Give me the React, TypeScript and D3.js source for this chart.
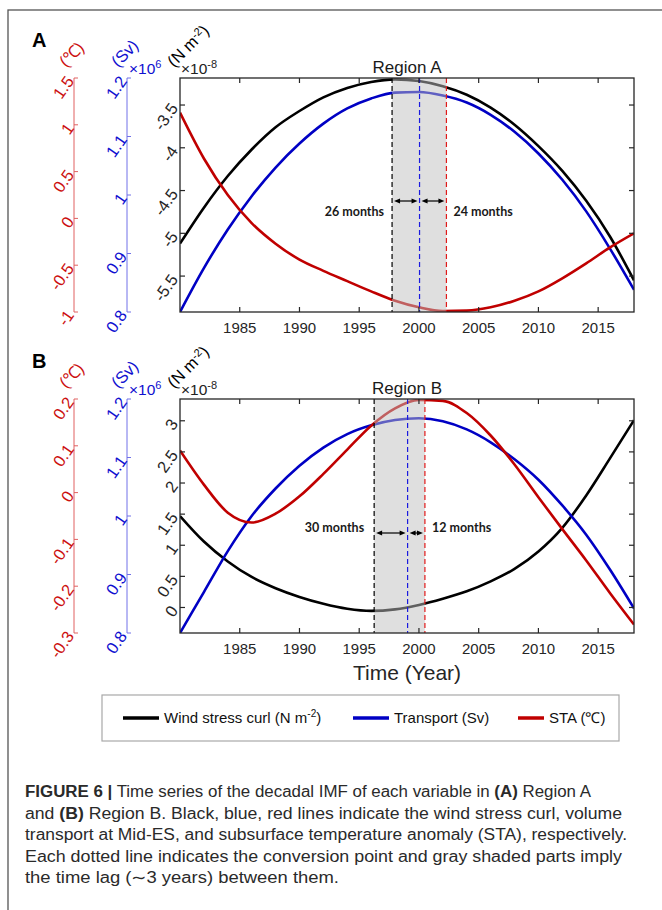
import * as d3 from "d3";

// decadal IMF (every 2 years)
const years = [1980, 1982, 1984, 1986, 1988, 1990, 1992, 1994, 1996, 1998, 2000, 2002, 2004, 2006, 2008, 2010, 2012, 2014, 2016, 2018];

// Region A
const windA = [-5.12, -4.7, -4.33, -4.02, -3.76, -3.57, -3.41, -3.3, -3.23, -3.2, -3.22, -3.28, -3.38, -3.53, -3.73, -3.98, -4.27, -4.62, -5.04, -5.55];
const transportA = [0.8, 0.875, 0.941, 0.998, 1.047, 1.088, 1.122, 1.148, 1.165, 1.175, 1.176, 1.17, 1.158, 1.137, 1.108, 1.071, 1.026, 0.972, 0.908, 0.838];
const staA = [1.13, 0.64, 0.25, -0.05, -0.27, -0.44, -0.56, -0.67, -0.78, -0.88, -0.95, -0.99, -0.985, -0.95, -0.88, -0.78, -0.64, -0.48, -0.31, -0.16];

// Region B
const windB = [1.47, 1.06, 0.74, 0.49, 0.31, 0.17, 0.06, -0.02, -0.055, -0.03, 0.04, 0.14, 0.26, 0.42, 0.62, 0.9, 1.28, 1.8, 2.4, 3.01];
const transportB = [0.8, 0.87, 0.94, 1.0, 1.047, 1.086, 1.117, 1.14, 1.155, 1.164, 1.167, 1.162, 1.148, 1.126, 1.097, 1.062, 1.018, 0.968, 0.908, 0.842];
const staB = [0.09, 0.017, -0.043, -0.064, -0.045, -0.008, 0.04, 0.092, 0.143, 0.18, 0.198, 0.196, 0.17, 0.122, 0.06, -0.01, -0.078, -0.145, -0.215, -0.282];

// conversion points (black, blue, red dashed lines) and lags
const convA = [1997.75, 2000.05, 2002.3];
const convB = [1996.25, 1999.05, 2000.5];
const monthsA = ["26 months", "24 months"];
const monthsB = ["30 months", "12 months"];

// ticks
const xTicks = [1985, 1990, 1995, 2000, 2005, 2010, 2015];
const windTicksA = [-5.5, -5, -4.5, -4, -3.5];
const windTicksB = [0, 0.5, 1, 1.5, 2, 2.5, 3];
const transportTicks = [0.8, 0.9, 1, 1.1, 1.2];
const staTicksA = [-1, -0.5, 0, 0.5, 1, 1.5];
const staTicksB = [-0.3, -0.2, -0.1, 0, 0.1, 0.2];

const legendLabels = ["Wind stress curl (N m", "Transport (Sv)", "STA (\u2103)"];

const captionLines = [
  [["FIGURE 6 |", true], [" Time series of the decadal IMF of each variable in ", false], ["(A)", true], [" Region A", false]],
  [["and ", false], ["(B)", true], [" Region B. Black, blue, red lines indicate the wind stress curl, volume", false]],
  [["transport at Mid-ES, and subsurface temperature anomaly (STA), respectively.", false]],
  [["Each dotted line indicates the conversion point and gray shaded parts imply", false]],
  [["the time lag (\u223C3 years) between them.", false]],
];
const captionWidths = [566, 597, 602, 597, 314];

const BLACK = "#000000";
const BLUE = "#0000c4";
const RED = "#c00000";
const FONT = "'Liberation Sans', Arial, sans-serif";

const X0 = 180;
const X1 = 634;
const PH = 234;
const RED_AX = 74;
const BLUE_AX = 127;
const TICK_FS = 16.5;
const ROT = -55;

const x = d3.scaleLinear().domain([1980, 2018]).range([X0, X1]);

function Arrow({ x1, x2, y }) {
  const h = 5;
  return (
    <g fill={BLACK} stroke={BLACK}>
      <line x1={x1 + h} x2={x2 - h} y1={y} y2={y} strokeWidth={1.2} />
      <path d={`M${x1},${y}L${x1 + h + 1},${y - 2.6}L${x1 + h + 1},${y + 2.6}Z`} stroke="none" />
      <path d={`M${x2},${y}L${x2 - h - 1},${y - 2.6}L${x2 - h - 1},${y + 2.6}Z`} stroke="none" />
    </g>
  );
}

function Panel({ top, letter, title, wind, transport, sta, windDomain, windTicks, staDomain, staTicks, conv, months, arrowDy, textDy, textGapL, showXLabel }) {
  const bottom = top + PH;
  const yW = d3.scaleLinear().domain(windDomain).range([bottom, top]);
  const yT = d3.scaleLinear().domain([0.8, 1.2]).range([bottom, top]);
  const yS = d3.scaleLinear().domain(staDomain).range([bottom, top]);
  const mk = (vals: number[], y: d3.ScaleLinear<number, number>) =>
    d3.line<number>().x((_, i) => x(years[i])).y((v) => y(v)).curve(d3.curveMonotoneX)(vals) || "";
  const clipId = `clip-${letter}`;
  const [cb, cu, cr] = conv.map((c) => x(c));
  const ay = top + arrowDy;

  return (
    <g fontFamily={FONT}>
      <text x={32} y={top - 31} fontSize={20} fontWeight="bold" fill="#000">{letter}</text>

      {/* STA axis */}
      <line x1={RED_AX} x2={RED_AX} y1={yS(staDomain[0])} y2={yS(staDomain[1])} stroke="#e06060" strokeWidth={1} />
      {staTicks.map((t) => (
        <g key={t}>
          <line x1={RED_AX} x2={RED_AX + 4} y1={yS(t)} y2={yS(t)} stroke="#e06060" />
          <text transform={`translate(${RED_AX - 4},${yS(t)}) rotate(${ROT})`} dy="0.35em" textAnchor="end" fontSize={TICK_FS} fill="#cc1010">{String(t)}</text>
        </g>
      ))}
      <text transform={`translate(${RED_AX - 8},${top - 10}) rotate(-45)`} fontSize={TICK_FS} fill="#cc1010">{"(\u2103)"}</text>

      {/* Transport axis */}
      <line x1={BLUE_AX} x2={BLUE_AX} y1={bottom} y2={top} stroke="#7070e8" strokeWidth={1} />
      {transportTicks.map((t) => (
        <g key={t}>
          <line x1={BLUE_AX} x2={BLUE_AX + 4} y1={yT(t)} y2={yT(t)} stroke="#7070e8" />
          <text transform={`translate(${BLUE_AX - 4},${yT(t)}) rotate(${ROT})`} dy="0.35em" textAnchor="end" fontSize={TICK_FS} fill="#1010d0">{String(t)}</text>
        </g>
      ))}
      <text transform={`translate(${BLUE_AX - 9},${top - 10}) rotate(-45)`} fontSize={TICK_FS} fill="#1010d0">(Sv)</text>
      <text x={BLUE_AX + 2} y={top - 4} fontSize={15.5} fill="#1010d0">
        {"\u00D710"}<tspan dy={-6} fontSize={11}>6</tspan>
      </text>

      {/* wind stress axis labels */}
      <text transform={`translate(${X0 - 6},${top - 10}) rotate(-45)`} fontSize={TICK_FS} fill="#000">
        (N m<tspan dy={-5} fontSize={11}>-2</tspan><tspan dy={5}>)</tspan>
      </text>
      <text x={X0 + 1} y={top - 4} fontSize={15.5} fill="#222">
        {"\u00D710"}<tspan dy={-6} fontSize={11}>-8</tspan>
      </text>

      <text x={(X0 + X1) / 2} y={top - 5} textAnchor="middle" fontSize={17} fill="#1a1a1a">{title}</text>

      {/* curves */}
      <defs>
        <clipPath id={clipId}>
          <rect x={X0} y={top} width={X1 - X0} height={PH} />
        </clipPath>
      </defs>
      <g clipPath={`url(#${clipId})`} fill="none" strokeWidth={2.6} strokeLinejoin="round">
        <path d={mk(wind, yW)} stroke={BLACK} />
        <path d={mk(transport, yT)} stroke={BLUE} />
        <path d={mk(sta, yS)} stroke={RED} />
      </g>

      {/* time-lag shading */}
      <rect x={cb} y={top} width={cr - cb} height={PH} fill="#c0c0c0" opacity={0.5} />
      <g strokeWidth={1.2} strokeDasharray="5,3">
        <line x1={cb} x2={cb} y1={top} y2={bottom} stroke="#000" />
        <line x1={cu} x2={cu} y1={top} y2={bottom} stroke="#1a1ae0" />
        <line x1={cr} x2={cr} y1={top} y2={bottom} stroke="#e01a1a" />
      </g>
      <Arrow x1={cb + 2} x2={cu - 2} y={ay} />
      <Arrow x1={cu + 2} x2={cr - 2} y={ay} />
      <g fontFamily="Lato, 'Open Sans', sans-serif" fontWeight="bold" fontSize={12.5} fill="#1a1a1a">
        <text x={cb - textGapL} y={ay + textDy} textAnchor="end">{months[0]}</text>
        <text x={cr + 7} y={ay + textDy} textAnchor="start">{months[1]}</text>
      </g>

      {/* frame and ticks */}
      <rect x={X0} y={top} width={X1 - X0} height={PH} fill="none" stroke="#262626" strokeWidth={1.3} />
      {xTicks.map((t) => (
        <g key={t}>
          <line x1={x(t)} x2={x(t)} y1={bottom} y2={bottom - 5} stroke="#262626" strokeWidth={1.2} />
          <line x1={x(t)} x2={x(t)} y1={top} y2={top + 5} stroke="#262626" strokeWidth={1.2} />
          <text x={x(t)} y={bottom + 21} textAnchor="middle" fontSize={15} fill="#262626">{t}</text>
        </g>
      ))}
      {windTicks.map((t) => (
        <g key={t}>
          <line x1={X0} x2={X0 + 5} y1={yW(t)} y2={yW(t)} stroke="#262626" strokeWidth={1.2} />
          <line x1={X1} x2={X1 - 5} y1={yW(t)} y2={yW(t)} stroke="#262626" strokeWidth={1.2} />
          <text transform={`translate(${X0 - 6},${yW(t)}) rotate(${ROT})`} dy="0.35em" textAnchor="end" fontSize={TICK_FS} fill="#262626">{String(t)}</text>
        </g>
      ))}
      {showXLabel && (
        <text x={(X0 + X1) / 2} y={bottom + 47} textAnchor="middle" fontSize={21} fill="#262626">Time (Year)</text>
      )}
    </g>
  );
}

function Legend() {
  const items = [
    { color: BLACK, x: 123 },
    { color: BLUE, x: 353 },
    { color: RED, x: 518 },
  ];
  const lens = [36, 36, 26];
  return (
    <g fontFamily={FONT} fontSize={15} fill="#111">
      <rect x={102} y={695} width={517} height={46} fill="#fff" stroke="#a8a8a8" strokeWidth={1.2} />
      {items.map((it, i) => (
        <g key={i}>
          <line x1={it.x} x2={it.x + lens[i]} y1={718} y2={718} stroke={it.color} strokeWidth={3.5} />
          <text x={it.x + lens[i] + 5} y={723}>
            {legendLabels[i]}
            {i === 0 && (
              <>
                <tspan dy={-6} fontSize={10}>-2</tspan>
                <tspan dy={6}>)</tspan>
              </>
            )}
          </text>
        </g>
      ))}
    </g>
  );
}

export default function App() {
  return (
    <svg width={662} height={910} style={{ position: "absolute", left: 0, top: 0, background: "#fff" }}>
      <rect x={8} y={10} width={700} height={960} fill="#fff" stroke="#555" strokeWidth={1.3} />
      <Panel
        top={78}
        letter="A"
        title="Region A"
        wind={windA}
        transport={transportA}
        sta={staA}
        windDomain={[-5.92, -3.184]}
        windTicks={windTicksA}
        staDomain={[-1, 1.5]}
        staTicks={staTicksA}
        conv={convA}
        months={monthsA}
        arrowDy={123}
        textDy={15}
        textGapL={8}
        showXLabel={false}
      />
      <Panel
        top={399}
        letter="B"
        title="Region B"
        wind={windB}
        transport={transportB}
        sta={staB}
        windDomain={[-0.41, 3.35]}
        windTicks={windTicksB}
        staDomain={[-0.3, 0.2]}
        staTicks={staTicksB}
        conv={convB}
        months={monthsB}
        arrowDy={134}
        textDy={-1}
        textGapL={10}
        showXLabel={true}
      />
      <Legend />
      <g fontFamily={FONT} fontSize={16} fill="#2a2a2a">
        {captionLines.map((segs, i) => (
          <text key={i} x={25} y={797 + i * 21.5} textLength={captionWidths[i]} lengthAdjust="spacingAndGlyphs">
            {segs.map(([s, b], j) => (
              <tspan key={j} fontWeight={b ? "bold" : "normal"}>{s as string}</tspan>
            ))}
          </text>
        ))}
      </g>
    </svg>
  );
}
